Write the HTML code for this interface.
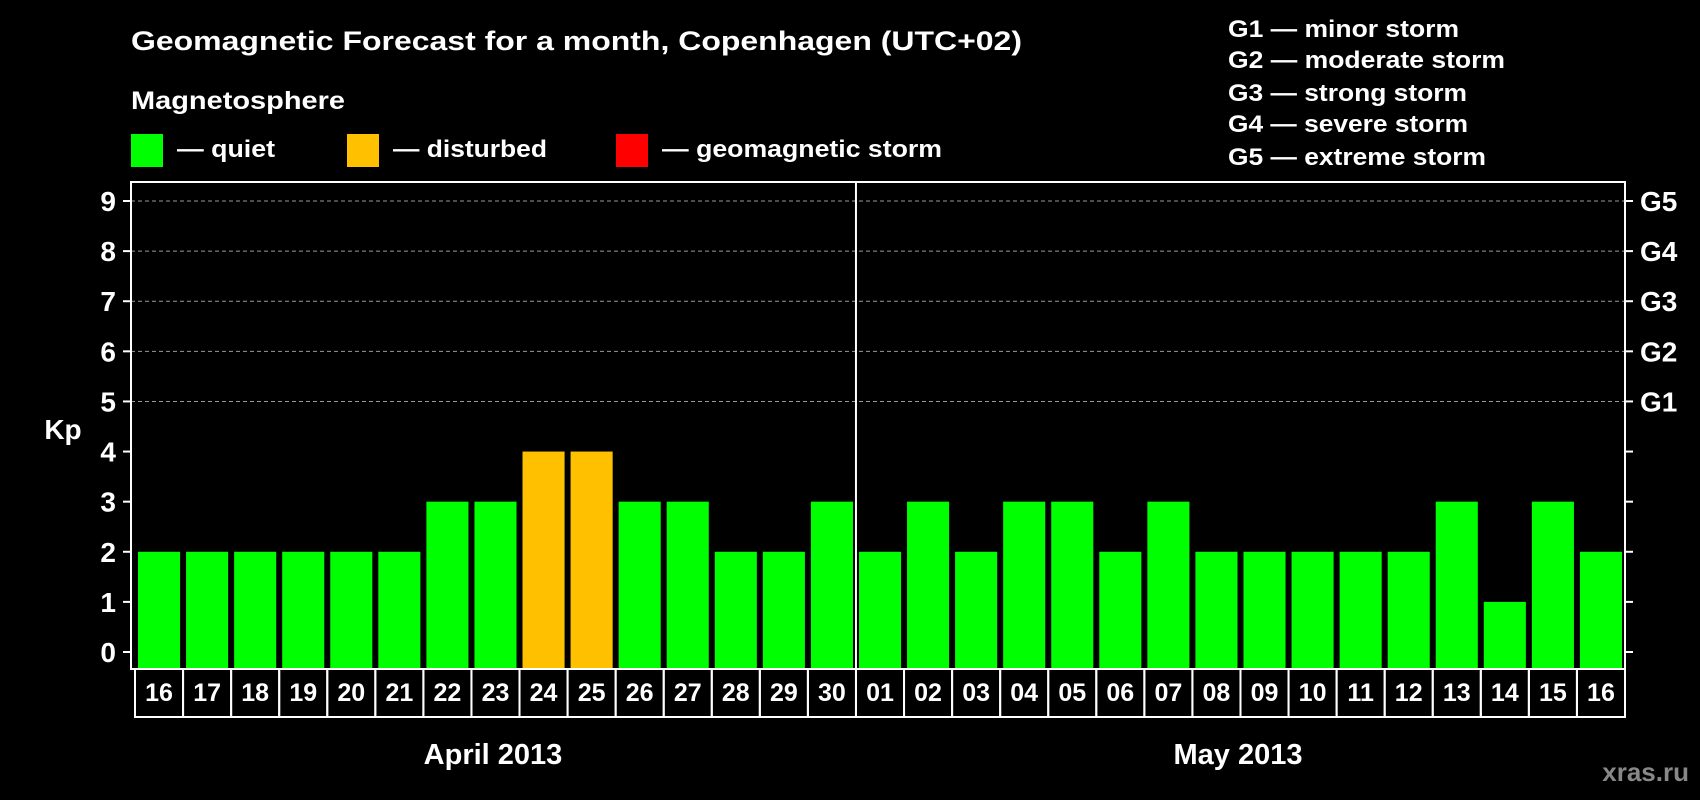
<!DOCTYPE html>
<html><head><meta charset="utf-8"><style>
html,body{margin:0;padding:0;background:#000;}
svg{display:block;font-family:"Liberation Sans",sans-serif;font-weight:bold;}
</style></head><body>
<svg id="chart" width="1700" height="800" viewBox="0 0 1700 800">
<rect x="0" y="0" width="1700" height="800" fill="#000"/>
<text x="131" y="50" fill="#fff" font-size="27" textLength="891" lengthAdjust="spacingAndGlyphs">Geomagnetic Forecast for a month, Copenhagen (UTC+02)</text>
<text x="131" y="109" fill="#fff" font-size="25" textLength="214" lengthAdjust="spacingAndGlyphs">Magnetosphere</text>
<rect x="131" y="134" width="32" height="33" fill="#00ff00"/>
<text x="177" y="157" fill="#fff" font-size="24" textLength="98" lengthAdjust="spacingAndGlyphs">— quiet</text>
<rect x="347" y="134" width="32" height="33" fill="#ffc000"/>
<text x="393" y="157" fill="#fff" font-size="24" textLength="154" lengthAdjust="spacingAndGlyphs">— disturbed</text>
<rect x="616" y="134" width="32" height="33" fill="#ff0000"/>
<text x="662" y="157" fill="#fff" font-size="24" textLength="280" lengthAdjust="spacingAndGlyphs">— geomagnetic storm</text>
<g fill="#fff" font-size="24">
<text x="1228" y="37" textLength="231" lengthAdjust="spacingAndGlyphs">G1 — minor storm</text>
<text x="1228" y="68" textLength="277" lengthAdjust="spacingAndGlyphs">G2 — moderate storm</text>
<text x="1228" y="101" textLength="239" lengthAdjust="spacingAndGlyphs">G3 — strong storm</text>
<text x="1228" y="132" textLength="240" lengthAdjust="spacingAndGlyphs">G4 — severe storm</text>
<text x="1228" y="165" textLength="258" lengthAdjust="spacingAndGlyphs">G5 — extreme storm</text>
</g>
<g id="plot"></g>
<text x="63" y="439" fill="#fff" font-size="28" text-anchor="middle">Kp</text>
<text x="493" y="764" fill="#fff" font-size="29" text-anchor="middle">April 2013</text>
<text x="1238" y="764" fill="#fff" font-size="29" text-anchor="middle">May 2013</text>
<text x="1689" y="781" fill="#888" font-size="26" text-anchor="end">xras.ru</text>
</svg>
<script>
const days = ["16","17","18","19","20","21","22","23","24","25","26","27","28","29","30","01","02","03","04","05","06","07","08","09","10","11","12","13","14","15","16"];
const kpValues = [2,2,2,2,2,2,3,3,4,4,3,3,2,2,3,2,3,2,3,3,2,3,2,2,2,2,2,3,1,3,2];
const yTicks = [0,1,2,3,4,5,6,7,8,9];
const gLabels = ["G1","G2","G3","G4","G5"];
const monthSplitIndex = 15;

const NS = "http://www.w3.org/2000/svg";
const plot = document.getElementById("plot");
const pLeft = 131, pRight = 1625, pTop = 182, pBottom = 669;
const slot = (pRight - pLeft - 4) / days.length;
const xStart = pLeft + 3;
function yScale(v){ return 652 - v * (652 - 201) / 9; }
function xScale(i){ return xStart + i * slot; }
function mk(tag, attrs){ const e = document.createElementNS(NS, tag); for (const k in attrs) e.setAttribute(k, attrs[k]); plot.appendChild(e); return e; }

yTicks.forEach(function(t){
  const y = yScale(t);
  if (t >= 5) {
    const g = mk("line", {x1:pLeft, x2:pRight, y1:y, y2:y, stroke:"#999", "stroke-width":1, "stroke-dasharray":"4,3"});
    
    
  }
  const tl = mk("line", {x1:pLeft-8, x2:pLeft, y1:y, y2:y, stroke:"#fff", "stroke-width":2});
  
  
  const tr = mk("line", {x1:pRight, x2:pRight+8, y1:y, y2:y, stroke:"#fff", "stroke-width":2});
  
  
  const lb = mk("text", {x:116, y:y+10, fill:"#fff", "font-size":28, "text-anchor":"end"});
  lb.textContent = t;
  
  
});
gLabels.forEach(function(g, i){
  const t = mk("text", {x:1640, y:yScale(5+i)+10, fill:"#fff", "font-size":28});
  t.textContent = g;
  
  
});

kpValues.forEach(function(v, i){
  const x = xScale(i) + 4;
  const y = yScale(v);
  const b = mk("rect", {x:x, y:y, width:slot-6, height:668-y, fill: v>=5 ? "#ff0000" : (v>=4 ? "#ffc000" : "#00ff00")});
  
  
  const c = mk("rect", {x:xScale(i)+1, y:669, width:slot, height:48, fill:"none", stroke:"#fff", "stroke-width":2});
  
  
  const t = mk("text", {x:xScale(i)+1+slot/2, y:701, fill:"#fff", "font-size":25, "text-anchor":"middle"});
  t.textContent = days[i];
  
  
});

const frame = mk("rect", {x:pLeft, y:pTop, width:pRight-pLeft, height:pBottom-pTop, fill:"none", stroke:"#fff", "stroke-width":2});


const sx = xScale(monthSplitIndex) + 1;
const div = mk("line", {x1:sx, x2:sx, y1:pTop, y2:pBottom, stroke:"#fff", "stroke-width":2});


</script>
</body></html>
